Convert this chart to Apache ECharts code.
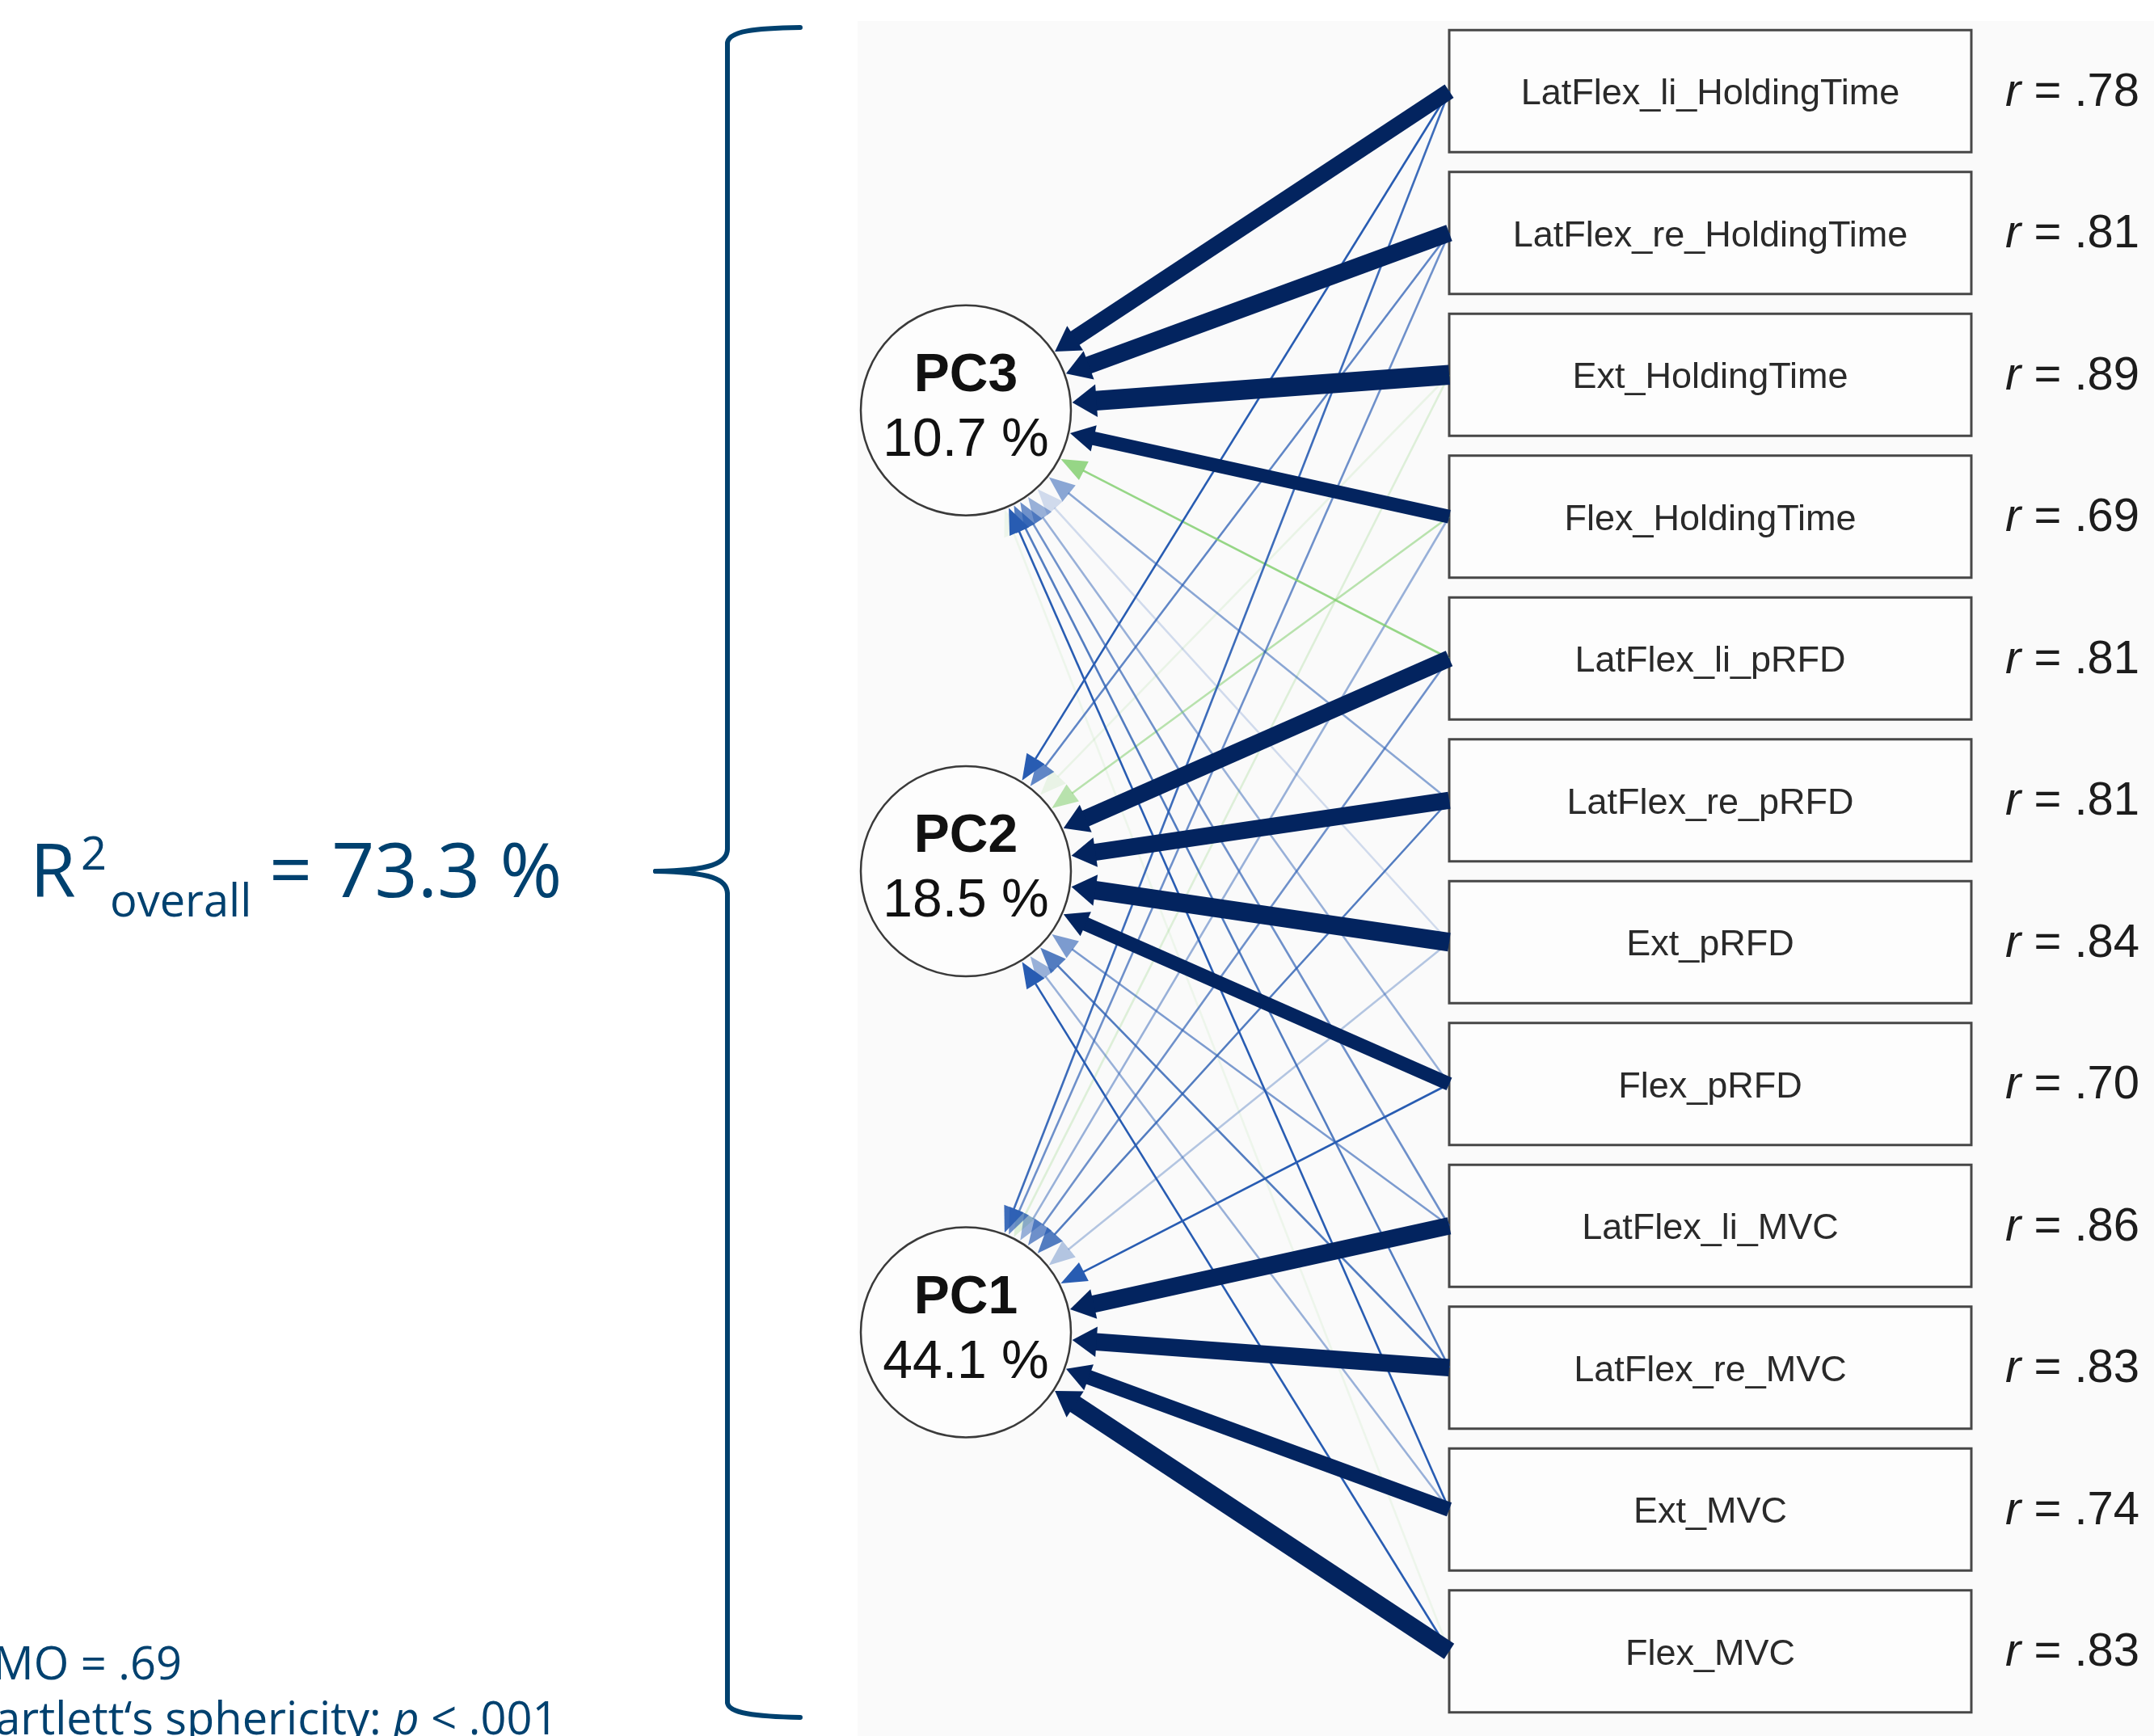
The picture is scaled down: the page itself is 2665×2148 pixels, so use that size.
<!DOCTYPE html>
<html>
<head>
<meta charset="utf-8">
<script src="https://cdn.jsdelivr.net/npm/echarts@6/dist/echarts.min.js"></script>
<style>
  html, body { margin: 0; padding: 0; background: #ffffff; }
  #chart { width: 2665px; height: 2148px; }
</style>
</head>
<body>
<div id="chart"></div>
<script>
// ---- Data: PCA of 12 trunk-strength measures ----
const variables = [
  'LatFlex_li_HoldingTime', 'LatFlex_re_HoldingTime', 'Ext_HoldingTime', 'Flex_HoldingTime',
  'LatFlex_li_pRFD', 'LatFlex_re_pRFD', 'Ext_pRFD', 'Flex_pRFD',
  'LatFlex_li_MVC', 'LatFlex_re_MVC', 'Ext_MVC', 'Flex_MVC'
];
const rValues = [0.78, 0.81, 0.89, 0.69, 0.81, 0.81, 0.84, 0.70, 0.86, 0.83, 0.74, 0.83];

const components = ['PC1', 'PC2', 'PC3'];
const explainedPct = [44.1, 18.5, 10.7];

// loadings of each variable (same order as `variables`) on each component
const loadingPC1 = [0.27, 0.20, -0.07, 0.14, 0.20, 0.24, 0.10, 0.30, 0.87, 0.87, 0.80, 0.89];
const loadingPC2 = [0.30, 0.22, -0.04, -0.16, 0.86, 0.86, 0.90, 0.78, 0.18, 0.24, 0.14, 0.30];
const loadingPC3 = [0.84, 0.87, 0.93, 0.78, -0.24, 0.16, 0.06, 0.14, 0.20, 0.24, 0.30, -0.03];

const totalR2 = 73.3;
const kmo = 0.69;
const bartlettP = '.001';

// ---- Layout / style constants ----
const PC_ROW = [8.75, 5.5, 2.25];        // vertical slot of PC1, PC2, PC3 on the row scale
const BOX_W = 646, BOX_H = 151;
const CIRCLE_D = 260;
const TIP_R = CIRCLE_D / 2 + 2;
const CUT = 0.5;
const BLUE_STRONG = '#03245f';
const NAVY_TEXT = '#00416f';
const LABEL_FONT = 'Liberation Sans';

const loadings = [loadingPC1, loadingPC2, loadingPC3];
const edgeData = [];
loadings.forEach((arr, p) => {
  arr.forEach((w, v) => edgeData.push([1, v, p, w]));
});
// weak edges first so strong ones sit on top
edgeData.sort((a, b) => Math.abs(a[3]) - Math.abs(b[3]));

function edgeColor(w) {
  const a = Math.abs(w);
  if (a >= CUT) return BLUE_STRONG;
  const alpha = Math.min(1, a / 0.3);
  return w >= 0 ? `rgba(40, 92, 178, ${alpha.toFixed(3)})`
                : `rgba(125, 205, 105, ${alpha.toFixed(3)})`;
}

function renderEdge(params, api) {
  const v = api.value(1), p = api.value(2), w = api.value(3);
  const boxC = api.coord([1, v]);
  const start = [boxC[0] - BOX_W / 2, boxC[1]];
  const c = api.coord([0, PC_ROW[p]]);
  const dx = start[0] - c[0], dy = start[1] - c[1];
  const len = Math.hypot(dx, dy);
  const ux = dx / len, uy = dy / len;
  const tip = [c[0] + ux * TIP_R, c[1] + uy * TIP_R];
  const strong = Math.abs(w) >= CUT;
  const lw = strong ? 50 * Math.abs(w) - 22 : 2.6;
  const headLen = strong ? 30 : 32;
  const headW = strong ? lw + 16 : 26;
  const base = [tip[0] + ux * headLen, tip[1] + uy * headLen];
  const px = -uy, py = ux;
  const col = edgeColor(w);
  return {
    type: 'group',
    children: [
      {
        type: 'line',
        shape: { x1: start[0], y1: start[1], x2: base[0] - ux * 1, y2: base[1] - uy * 1 },
        style: { stroke: col, lineWidth: lw, lineCap: 'butt' }
      },
      {
        type: 'polygon',
        shape: {
          points: [
            tip,
            [base[0] + px * headW / 2, base[1] + py * headW / 2],
            [base[0] - px * headW / 2, base[1] - py * headW / 2]
          ]
        },
        style: { fill: col }
      }
    ]
  };
}

const fmtR = r => r.toFixed(2).replace(/^0/, '');

function renderBox(params, api) {
  const i = api.value(1);
  const c = api.coord([1, i]);
  const x0 = c[0] - BOX_W / 2, y0 = c[1] - BOX_H / 2;
  return {
    type: 'group',
    children: [
      {
        type: 'rect',
        shape: { x: x0, y: y0, width: BOX_W, height: BOX_H },
        style: { fill: '#fdfdfd', stroke: '#474747', lineWidth: 3 }
      },
      {
        type: 'text',
        x: c[0], y: c[1] + 4,
        style: {
          text: variables[i], fontFamily: LABEL_FONT, fontSize: 45, fill: '#2a2a2a',
          align: 'center', verticalAlign: 'middle'
        }
      },
      {
        type: 'text',
        x: x0 + BOX_W + 42, y: c[1] + 2,
        style: {
          text: '{i|r} = ' + fmtR(rValues[i]),
          fontFamily: LABEL_FONT, fontSize: 58, fill: '#1c1c1c',
          align: 'left', verticalAlign: 'middle',
          rich: { i: { fontFamily: LABEL_FONT, fontStyle: 'italic', fontSize: 58, fill: '#1c1c1c' } }
        }
      }
    ]
  };
}

const braceStyle = { stroke: NAVY_TEXT, lineWidth: 6, fill: null, lineCap: 'round' };

const chart = echarts.init(document.getElementById('chart'), null, { renderer: 'canvas' });

const option = {
  animation: false,
  backgroundColor: '#ffffff',
  grid: { left: 1195, width: 921, top: 25, height: 2106, show: false },
  xAxis: { type: 'value', min: 0, max: 1, show: false },
  yAxis: { type: 'value', min: -0.5, max: 11.5, inverse: true, show: false },
  graphic: [
    // plotting panel
    { type: 'rect', z: -10, silent: true,
      shape: { x: 1061, y: 26, width: 1604, height: 2122 },
      style: { fill: '#fafafa' } },
    // curly brace
    { type: 'bezierCurve', z: 1, silent: true,
      shape: { x1: 990, y1: 34, cpx1: 935, cpy1: 35, cpx2: 900, cpy2: 38, x2: 900, y2: 54 },
      style: braceStyle },
    { type: 'line', z: 1, silent: true,
      shape: { x1: 900, y1: 54, x2: 900, y2: 1050 }, style: braceStyle },
    { type: 'bezierCurve', z: 1, silent: true,
      shape: { x1: 900, y1: 1050, cpx1: 900, cpy1: 1068, cpx2: 880, cpy2: 1077, x2: 811, y2: 1078 },
      style: braceStyle },
    { type: 'bezierCurve', z: 1, silent: true,
      shape: { x1: 811, y1: 1078, cpx1: 880, cpy1: 1079, cpx2: 900, cpy2: 1088, x2: 900, y2: 1106 },
      style: braceStyle },
    { type: 'line', z: 1, silent: true,
      shape: { x1: 900, y1: 1106, x2: 900, y2: 2106 }, style: braceStyle },
    { type: 'bezierCurve', z: 1, silent: true,
      shape: { x1: 900, y1: 2106, cpx1: 900, cpy1: 2120, cpx2: 935, cpy2: 2124, x2: 990, y2: 2125 },
      style: braceStyle },
    // R² overall
    { type: 'text', z: 5, silent: true, x: 37, y: 1083,
      style: { text: 'R', fontFamily: 'Open Sans', fontSize: 92, fill: NAVY_TEXT, align: 'left', verticalAlign: 'middle' } },
    { type: 'text', z: 5, silent: true, x: 100, y: 1060,
      style: { text: '2', fontFamily: 'Open Sans', fontSize: 56, fill: NAVY_TEXT, align: 'left', verticalAlign: 'middle' } },
    { type: 'text', z: 5, silent: true, x: 136, y: 1118,
      style: { text: 'overall', fontFamily: 'Open Sans', fontSize: 56, fill: NAVY_TEXT, align: 'left', verticalAlign: 'middle' } },
    { type: 'text', z: 5, silent: true, x: 333, y: 1083,
      style: { text: '= ' + totalR2.toFixed(1) + ' %', fontFamily: 'Open Sans', fontSize: 93, fill: NAVY_TEXT, align: 'left', verticalAlign: 'middle' } },
    // sampling adequacy notes
    { type: 'text', z: 5, silent: true, x: -43, y: 2062,
      style: { text: 'KMO = ' + fmtR(kmo), fontFamily: 'Open Sans', fontSize: 56, fill: NAVY_TEXT, align: 'left', verticalAlign: 'middle' } },
    { type: 'text', z: 5, silent: true, x: -42, y: 2130,
      style: {
        text: 'Bartlett\u2018s sphericity: {i|p} < ' + bartlettP,
        fontFamily: 'Open Sans', fontSize: 56, fill: NAVY_TEXT, align: 'left', verticalAlign: 'middle',
        rich: { i: { fontFamily: 'Open Sans', fontSize: 56, fontStyle: 'italic', fill: NAVY_TEXT } }
      } }
  ],
  series: [
    {
      name: 'variables',
      type: 'custom',
      coordinateSystem: 'cartesian2d',
      encode: { x: 0, y: 1 },
      z: 2,
      silent: true,
      renderItem: renderBox,
      data: variables.map((v, i) => [1, i])
    },
    {
      name: 'loadings',
      type: 'custom',
      coordinateSystem: 'cartesian2d',
      encode: { x: 0, y: 1 },
      z: 3,
      silent: true,
      renderItem: renderEdge,
      data: edgeData
    },
    {
      name: 'components',
      type: 'scatter',
      z: 4,
      silent: true,
      symbol: 'circle',
      symbolSize: CIRCLE_D,
      itemStyle: { color: '#fdfdfd', borderColor: '#3a3a3a', borderWidth: 2.5, opacity: 1 },
      label: {
        show: true,
        position: 'inside',
        offset: [0, -2],
        formatter: p => '{b|' + p.data.name + '}\n{n|' + p.data.pct.toFixed(1) + ' %}',
        rich: {
          b: { fontFamily: LABEL_FONT, fontWeight: 'bold', fontSize: 66, lineHeight: 80, color: '#111111' },
          n: { fontFamily: LABEL_FONT, fontSize: 66, lineHeight: 80, color: '#111111' }
        }
      },
      data: components.map((c, i) => ({ value: [0, PC_ROW[i]], name: c, pct: explainedPct[i] }))
    }
  ]
};

chart.setOption(option);
</script>
</body>
</html>
